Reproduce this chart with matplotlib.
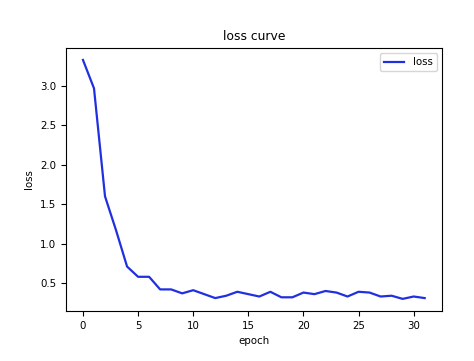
import matplotlib
matplotlib.use("Agg")
import matplotlib.pyplot as plt

epochs = list(range(32))
loss = [3.33, 2.97, 1.60, 1.17, 0.71, 0.58, 0.58, 0.42, 0.42, 0.37,
        0.41, 0.36, 0.31, 0.34, 0.39, 0.36, 0.33, 0.39, 0.32, 0.32,
        0.38, 0.36, 0.40, 0.38, 0.33, 0.39, 0.38, 0.33, 0.34, 0.30,
        0.33, 0.31]

plt.rcParams['font.size'] = 7.4

fig = plt.figure(figsize=(4.74, 3.61), dpi=100)
ax = fig.add_axes([0.139, 0.139, 0.793, 0.728])

ax.plot(epochs, loss, color='#2030e0', linewidth=1.6, label='loss')
ax.set_title("loss curve")
ax.set_xlabel("epoch")
ax.set_ylabel("loss")
ax.set_xticks([0, 5, 10, 15, 20, 25, 30])
ax.set_yticks([0.5, 1.0, 1.5, 2.0, 2.5, 3.0])
ax.legend(loc='upper right')

fig.savefig("out.png")
